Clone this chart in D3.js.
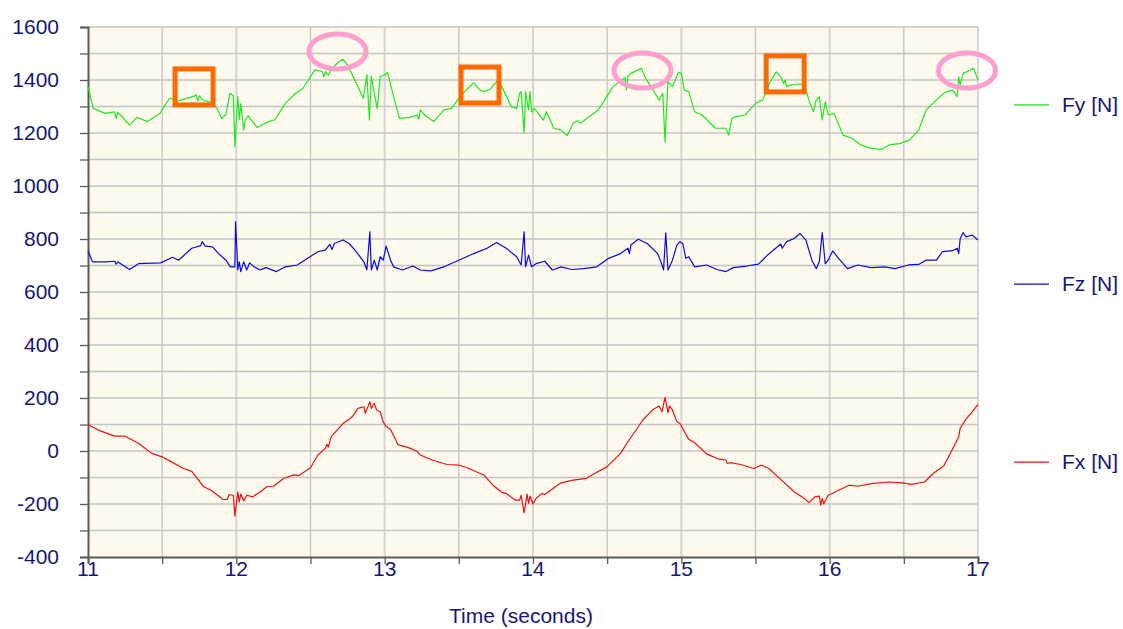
<!DOCTYPE html>
<html>
<head>
<meta charset="utf-8">
<script src="https://cdn.jsdelivr.net/npm/d3@7"></script>
<style>
    body { margin: 0; background: #ffffff; }
    svg { display: block; font-family: "Liberation Sans", Arial, sans-serif; }
    .gridLine { stroke: #c4c4c4; stroke-width: 1.3; }
    .label { fill: #16167a; font-size: 21px; }
</style>
</head>
<body>
<script>
//force data: [time (s), force (N)]
var fyData = [[11.0,1375],[11.036,1293],[11.115,1274],[11.18,1280],[11.19,1255],[11.2,1278],[11.22,1268],[11.28,1230],[11.33,1259],[11.37,1250],[11.40,1243],[11.485,1274],[11.55,1331],[11.61,1321],[11.72,1340],[11.73,1345],[11.74,1320],[11.75,1340],[11.78,1322],[11.82,1318],[11.87,1293],[11.90,1255],[11.93,1270],[11.957,1350],[11.98,1340],[11.99,1148],[12.01,1337],[12.02,1250],[12.03,1310],[12.05,1211],[12.06,1250],[12.08,1265],[12.14,1221],[12.19,1236],[12.22,1243],[12.26,1250],[12.33,1312],[12.40,1350],[12.45,1369],[12.53,1438],[12.58,1432],[12.59,1412],[12.60,1432],[12.62,1418],[12.64,1440],[12.69,1469],[12.72,1478],[12.75,1457],[12.82,1375],[12.856,1331],[12.88,1420],[12.897,1249],[12.91,1415],[12.93,1350],[12.95,1293],[12.97,1413],[13.0,1419],[13.02,1428],[13.06,1337],[13.10,1255],[13.17,1259],[13.22,1268],[13.23,1252],[13.24,1287],[13.27,1268],[13.33,1243],[13.40,1287],[13.45,1293],[13.50,1331],[13.55,1363],[13.60,1390],[13.64,1363],[13.67,1356],[13.71,1365],[13.755,1394],[13.79,1375],[13.855,1299],[13.89,1293],[13.91,1350],[13.92,1356],[13.94,1201],[13.95,1356],[13.97,1287],[13.98,1356],[13.99,1280],[14.01,1293],[14.07,1249],[14.09,1280],[14.14,1218],[14.19,1211],[14.23,1190],[14.27,1237],[14.30,1246],[14.32,1237],[14.38,1262],[14.44,1287],[14.54,1375],[14.60,1400],[14.62,1410],[14.63,1363],[14.64,1415],[14.66,1425],[14.73,1444],[14.76,1406],[14.81,1362],[14.85,1324],[14.875,1350],[14.89,1167],[14.91,1394],[14.94,1375],[14.98,1428],[15.0,1425],[15.02,1362],[15.05,1356],[15.09,1280],[15.14,1268],[15.23,1218],[15.30,1218],[15.32,1192],[15.34,1255],[15.37,1262],[15.43,1268],[15.50,1312],[15.55,1325],[15.60,1394],[15.64,1431],[15.67,1412],[15.69,1387],[15.70,1400],[15.71,1375],[15.73,1381],[15.80,1385],[15.83,1381],[15.86,1325],[15.89,1280],[15.91,1325],[15.93,1337],[15.95,1249],[15.97,1318],[15.99,1268],[16.03,1274],[16.09,1192],[16.15,1180],[16.21,1155],[16.28,1142],[16.35,1138],[16.40,1155],[16.47,1160],[16.54,1174],[16.60,1211],[16.65,1287],[16.72,1325],[16.77,1350],[16.79,1356],[16.83,1362],[16.86,1337],[16.87,1412],[16.88,1381],[16.90,1425],[16.945,1437],[16.97,1444],[17.0,1400]];

var fzData = [[11.0,756],[11.03,714],[11.12,714],[11.18,716],[11.19,705],[11.2,714],[11.28,685],[11.34,707],[11.49,710],[11.57,731],[11.61,720],[11.70,765],[11.76,775],[11.77,790],[11.79,773],[11.84,770],[11.88,745],[11.93,720],[11.96,695],[11.99,695],[11.995,865],[12.01,683],[12.02,714],[12.03,677],[12.05,714],[12.07,683],[12.09,710],[12.12,695],[12.16,683],[12.20,692],[12.27,677],[12.33,695],[12.41,702],[12.46,720],[12.55,752],[12.60,758],[12.63,780],[12.645,760],[12.66,783],[12.72,796],[12.76,783],[12.80,758],[12.86,714],[12.88,683],[12.90,827],[12.91,683],[12.93,720],[12.95,683],[12.97,733],[12.99,720],[13.01,773],[13.04,720],[13.06,695],[13.12,683],[13.19,698],[13.24,683],[13.31,680],[13.40,695],[13.50,720],[13.60,745],[13.69,765],[13.755,787],[13.82,765],[13.89,733],[13.92,702],[13.94,827],[13.95,695],[13.97,739],[13.99,695],[14.02,707],[14.08,716],[14.13,683],[14.19,695],[14.26,685],[14.34,688],[14.43,695],[14.51,727],[14.59,745],[14.64,765],[14.65,745],[14.66,777],[14.71,799],[14.77,783],[14.84,745],[14.87,702],[14.88,683],[14.895,823],[14.91,683],[14.94,720],[14.97,777],[14.99,790],[15.01,783],[15.03,727],[15.05,733],[15.09,695],[15.17,702],[15.24,685],[15.30,677],[15.35,692],[15.44,698],[15.52,705],[15.58,739],[15.67,781],[15.68,765],[15.71,790],[15.76,802],[15.80,821],[15.84,796],[15.88,720],[15.91,688],[15.93,714],[15.95,824],[15.97,707],[15.99,720],[16.02,755],[16.06,727],[16.12,688],[16.19,702],[16.28,692],[16.37,695],[16.44,688],[16.53,702],[16.60,704],[16.65,720],[16.72,720],[16.76,752],[16.83,756],[16.86,765],[16.87,745],[16.88,802],[16.90,824],[16.92,808],[16.96,815],[17.0,796]];

var fxData = [[11.0,100],[11.07,79],[11.18,56],[11.25,56],[11.34,29],[11.43,-9],[11.50,-22],[11.56,-40],[11.64,-65],[11.70,-77],[11.78,-135],[11.83,-148],[11.91,-183],[11.94,-183],[11.95,-165],[11.98,-167],[11.99,-245],[12.01,-155],[12.02,-192],[12.03,-162],[12.05,-188],[12.07,-167],[12.11,-173],[12.16,-155],[12.205,-135],[12.25,-133],[12.32,-103],[12.39,-90],[12.42,-93],[12.50,-63],[12.55,-15],[12.60,10],[12.61,25],[12.62,15],[12.64,54],[12.72,104],[12.78,128],[12.82,161],[12.86,167],[12.87,142],[12.90,186],[12.91,161],[12.93,180],[12.945,155],[12.97,148],[12.99,110],[13.01,92],[13.04,81],[13.09,24],[13.17,11],[13.22,-2],[13.24,-15],[13.32,-34],[13.42,-51],[13.50,-53],[13.57,-66],[13.64,-84],[13.67,-91],[13.73,-129],[13.79,-156],[13.82,-160],[13.88,-185],[13.91,-185],[13.92,-167],[13.94,-233],[13.96,-163],[13.97,-198],[13.98,-170],[14.0,-200],[14.02,-179],[14.06,-160],[14.08,-164],[14.15,-135],[14.19,-120],[14.27,-110],[14.36,-103],[14.40,-90],[14.50,-59],[14.59,-9],[14.64,35],[14.68,67],[14.74,117],[14.81,157],[14.85,170],[14.87,148],[14.89,202],[14.91,145],[14.92,170],[14.94,155],[14.97,111],[14.99,104],[15.05,44],[15.09,31],[15.17,-11],[15.25,-30],[15.30,-34],[15.31,-47],[15.33,-44],[15.40,-51],[15.49,-66],[15.54,-53],[15.59,-66],[15.67,-107],[15.76,-154],[15.83,-179],[15.86,-195],[15.90,-173],[15.93,-170],[15.94,-204],[15.95,-179],[15.96,-200],[15.99,-167],[16.04,-154],[16.13,-129],[16.19,-133],[16.28,-123],[16.40,-117],[16.49,-120],[16.55,-126],[16.64,-117],[16.70,-84],[16.77,-56],[16.82,-2],[16.87,54],[16.88,86],[16.915,117],[16.96,148],[17.0,176]];

//series names and colours, legend order
var seriesNames = ["Fy [N]", "Fz [N]", "Fx [N]"];
var seriesColors = ["#1ee81e", "#0a0ae6", "#f01010"];
var legendValues = [1306, 630, -42]; //force level each legend entry sits at

//axis ticks
var xTicks = [11, 12, 13, 14, 15, 16, 17];
var yTicks = [1600, 1400, 1200, 1000, 800, 600, 400, 200, 0, -200, -400];
var xLabel = "Time (seconds)";

//highlight marks drawn on the Fy trace: [time, force]
var boxMarks = [[11.715, 1374], [13.643, 1381], [15.70, 1423]];
var ringMarks = [[12.682, 1508], [14.738, 1436], [16.926, 1436]];

(function(){
    var width = 1123, height = 629;
    var left = 88, right = 978, top = 27, bottom = 557;

    var svg = d3.select("body").append("svg")
        .attr("width", width)
        .attr("height", height);

    var x = d3.scaleLinear().domain([11, 17]).range([left, right]);
    var y = d3.scaleLinear().domain([-400, 1600]).range([bottom, top]);

    //plot background
    svg.append("rect")
        .attr("x", left).attr("y", top)
        .attr("width", right - left).attr("height", bottom - top)
        .attr("fill", "#fdf9ed");

    //grid lines every 0.5 s and every 100 N
    var xGrid = d3.range(11.5, 17.01, 0.5);
    var yGrid = d3.range(-300, 1601, 100);

    svg.selectAll(".vGrid").data(xGrid).enter().append("line")
        .attr("class", "gridLine")
        .attr("x1", d => x(d)).attr("x2", d => x(d))
        .attr("y1", top).attr("y2", bottom)
        .style("stroke", d => Number.isInteger(d) && d < 17 ? "#d6d6d6" : null)
        .style("stroke-width", d => Number.isInteger(d) && d < 17 ? 2 : null);

    svg.selectAll(".hGrid").data(yGrid).enter().append("line")
        .attr("class", "gridLine")
        .attr("x1", left).attr("x2", right)
        .attr("y1", d => y(d)).attr("y2", d => y(d));

    //axes
    var yAxis = d3.axisLeft(y).tickValues(d3.range(-400, 1601, 100)).tickSize(8).tickFormat("");
    var xAxis = d3.axisBottom(x).tickValues(d3.range(11, 17.01, 0.5)).tickSize(7).tickFormat("");

    var gy = svg.append("g").attr("transform", `translate(${left},0)`).call(yAxis);
    var gx = svg.append("g").attr("transform", `translate(0,${bottom})`).call(xAxis);
    [gy, gx].forEach(function(g){
        g.select(".domain").attr("stroke", "#5a5a5a").attr("stroke-width", 2);
        g.selectAll(".tick line").attr("stroke", "#5a5a5a").attr("stroke-width", 1.3);
    });

    //tick labels
    svg.selectAll(".yLab").data(yTicks).enter().append("text")
        .attr("class", "label")
        .attr("x", 59).attr("y", d => y(d) + 7)
        .attr("text-anchor", "end")
        .text(d => d);

    svg.selectAll(".xLab").data(xTicks).enter().append("text")
        .attr("class", "label")
        .attr("x", d => x(d)).attr("y", bottom + 19)
        .attr("text-anchor", "middle")
        .text(d => d);

    svg.append("text")
        .attr("class", "label")
        .attr("x", 521).attr("y", 623)
        .attr("text-anchor", "middle")
        .text(xLabel);

    //force traces
    var line = d3.line().x(d => x(d[0])).y(d => y(d[1]));
    [fyData, fzData, fxData].forEach(function(data, i){
        svg.append("path")
            .datum(data)
            .attr("fill", "none")
            .attr("stroke", seriesColors[i])
            .attr("stroke-width", 1.2)
            .attr("stroke-linejoin", "round")
            .attr("d", line);
    });

    //legend
    seriesNames.forEach(function(name, i){
        var ly = y(legendValues[i]);
        svg.append("line")
            .attr("x1", 1014).attr("x2", 1049)
            .attr("y1", ly).attr("y2", ly)
            .attr("stroke", seriesColors[i])
            .attr("stroke-width", 1.2);
        svg.append("text")
            .attr("class", "label")
            .attr("x", 1062).attr("y", ly + 7)
            .text(name);
    });

    //highlight boxes and rings
    svg.selectAll(".box").data(boxMarks).enter().append("rect")
        .attr("x", d => x(d[0]) - 19).attr("y", d => y(d[1]) - 18)
        .attr("width", 38).attr("height", 36)
        .attr("fill", "none")
        .attr("stroke", "#ff6a00")
        .attr("stroke-width", 5);

    svg.selectAll(".ring").data(ringMarks).enter().append("ellipse")
        .attr("cx", d => x(d[0])).attr("cy", d => y(d[1]))
        .attr("rx", 28.5).attr("ry", 17.5)
        .attr("fill", "none")
        .attr("stroke", "#ff9fcf")
        .attr("stroke-width", 5);
})();
</script>
</body>
</html>
